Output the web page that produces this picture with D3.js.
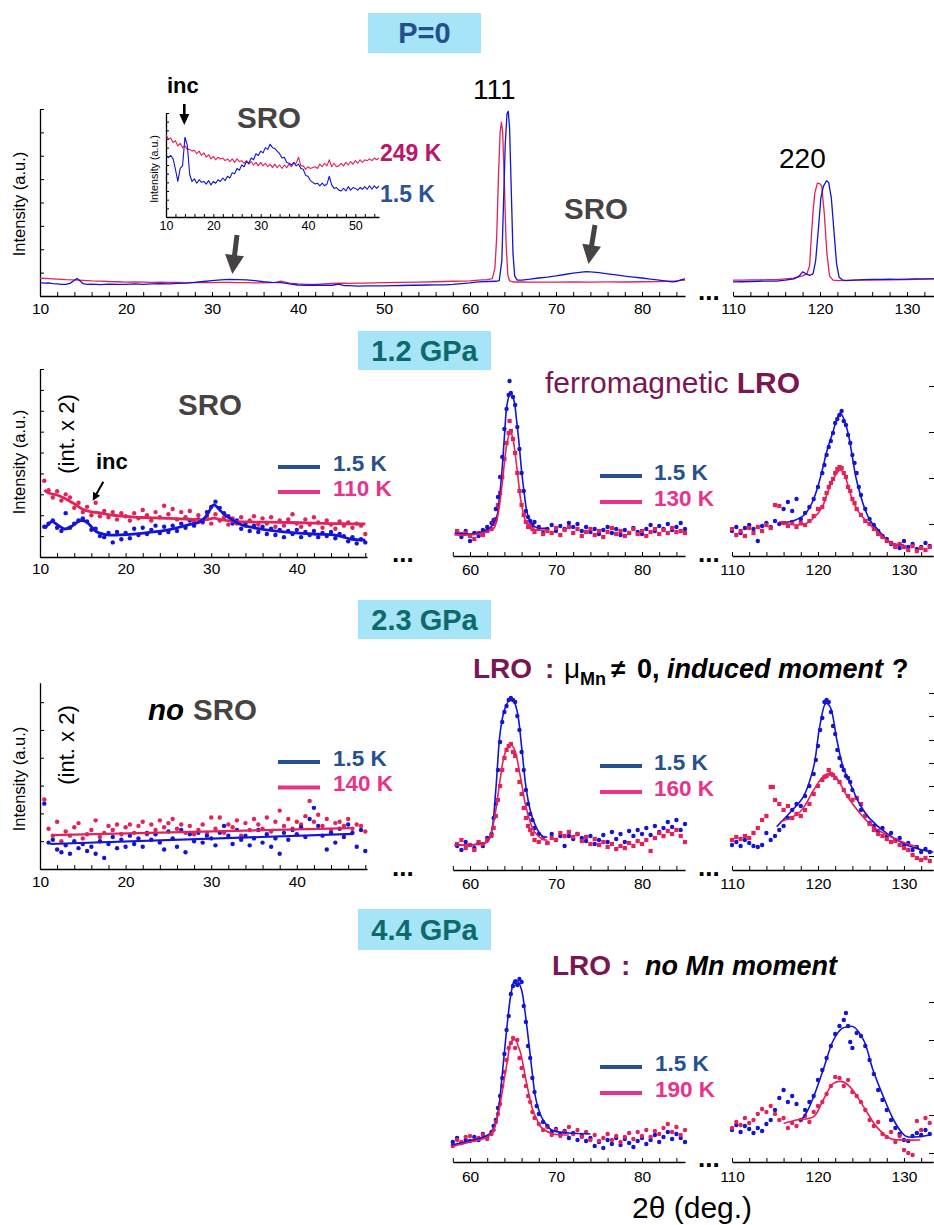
<!DOCTYPE html>
<html><head><meta charset="utf-8">
<script src="https://cdn.jsdelivr.net/npm/d3@7"></script>
<style>
body{margin:0;background:#fff;}
svg{display:block;font-family:"Liberation Sans",Arial,sans-serif;}
</style></head><body>
<svg id="chart" width="934" height="1225"></svg>
<script>
// ================= DATA =================
// tick labels
const p0LabelsA = [10,20,30,40,50,60,70,80];
const p0LabelsB = [110,120,130];
const insetLabels = [10,20,30,40,50];
const leftLabels = [10,20,30,40];
const peak111Labels = [60,70,80];
const peak220Labels = [110,120,130];
const p2RightTicks = [14.5,37.5,60.5,83.5];
const p3RightTicks = [7,18.5,30,42,53.5,65,77,88.5];
const p4RightTicks = [4.5,23.5,42,61,80];

// ---- P = 0, main panel (lines) ----
const p0BlueA = [[10,5.7],[10.5,5.5],[11,5.6],[11.5,5.3],[12,5.2],[12.5,5.0],[13,5.0],[13.5,5.4],[14,6.7],[14.3,7.5],[14.6,6.6],[15,5.3],[15.5,5.0],[16,5.1],[17,4.9],[18,5.1],[19,5.0],[20,5.0],[21,5.2],[22,5.0],[23,5.2],[24,5.3],[25,5.2],[26,5.4],[27,5.5],[28,5.8],[29,6.2],[30,6.6],[31,6.9],[32,7.1],[33,7.0],[34,6.9],[35,6.6],[36,6.1],[37,5.8],[38,5.7],[38.5,5.5],[39,5.2],[40,4.7],[41,4.6],[42,4.7],[43,4.6],[44,4.6],[44.7,5.1],[45.3,4.5],[46,4.4],[47,4.2],[48,4.3],[49,4.3],[50,4.3],[51,4.4],[52,4.5],[53,4.6],[54,4.6],[55,4.7],[56,4.8],[57,4.8],[58,5.0],[59,5.3],[60,5.6],[61,6.0],[62,6.2],[63,6.3],[63.4,6.6],[63.7,15],[63.9,40],[64.1,65],[64.3,78],[64.45,79],[64.6,72],[64.8,45],[65,18],[65.2,8.5],[65.5,6.8],[66,6.8],[67,7.2],[68,7.7],[69,8.1],[70,8.6],[71,9.2],[72,9.8],[73,10.2],[73.5,10.4],[74,10.3],[75,10.0],[76,9.5],[77,9.0],[78,8.5],[79,8.1],[80,7.7],[81,7.2],[82,6.8],[83,6.3],[83.5,6.0],[84,6.2],[84.5,6.9],[85,7.3]];
const p0RedA = [[10,7.6],[11,7.4],[12,7.2],[13,7.0],[14,6.9],[15,6.7],[16,6.5],[17,6.4],[18,6.2],[19,6.1],[20,5.9],[21,6.0],[22,5.9],[23,5.8],[24,5.9],[25,5.8],[26,5.8],[27,5.7],[28,5.8],[29,5.7],[30,5.7],[31,5.8],[32,5.8],[33,5.7],[34,5.7],[35,5.6],[36,5.6],[37,5.7],[37.5,5.9],[38,6.4],[38.5,5.9],[39,5.5],[40,5.2],[41,5.0],[42,5.0],[43,5.2],[44,5.4],[45,5.5],[46,5.4],[47,5.5],[48,5.5],[50,5.7],[52,5.8],[54,5.9],[56,6.1],[58,6.3],[60,6.5],[61,6.8],[62,7.0],[62.6,7.4],[62.9,12],[63.1,25],[63.3,50],[63.5,70],[63.65,74.4],[63.8,70],[64,48],[64.2,22],[64.4,9],[64.6,6.5],[65,6.0],[66,6.0],[67,5.9],[68,5.9],[70,5.9],[72,6.0],[74,5.9],[76,6.0],[78,6.0],[80,6.1],[82,6.2],[84,6.5],[85,6.8]];
const p0BlueB = [[110,6.0],[111,6.1],[112,6.2],[113,6.3],[114,6.4],[115,6.4],[116,6.8],[117,7.3],[117.6,8.5],[118,10.3],[118.4,9.5],[118.8,8.8],[119.2,9.5],[119.5,15],[119.8,28],[120.1,42],[120.4,47],[120.75,49.3],[121,48.5],[121.3,42],[121.6,28],[121.9,14],[122.2,8],[122.6,6.8],[123,6.6],[124,6.8],[125,7.0],[126,7.1],[127,7.1],[128,7.2],[129,7.1],[130,7.2],[131,7.3],[132,7.3],[133,7.3],[134,7.4]];
const p0RedB = [[110,6.8],[111,6.8],[112,6.9],[113,6.9],[114,7.0],[115,7.0],[116,7.3],[117,7.6],[118,8.6],[118.5,9.5],[118.8,13],[119,25],[119.2,36],[119.4,44],[119.7,48.3],[120,48],[120.2,47],[120.5,35],[120.8,18],[121.1,8.5],[121.5,6.8],[122,6.6],[123,6.7],[124,6.8],[126,6.8],[128,6.9],[130,7.0],[132,7.2],[134,7.6]];

// ---- P = 0, inset (start 10, step 0.5) ----
const insetBlue = [
 7.15,6.85,7.1,6.7,5.5,4.1,5.6,5.9,9.2,8.3,
 4.9,4.1,4.4,3.9,4.3,4.0,4.1,3.8,4.2,3.7,
 4.1,3.9,4.3,4.1,4.5,4.2,4.7,4.5,5.1,5.0,
 5.6,5.4,6.0,5.8,6.4,6.2,6.8,6.6,7.3,7.1,
 7.6,7.4,8.0,7.8,8.4,8.0,7.9,7.6,7.3,6.8,
 6.9,6.3,6.2,6.0,6.3,5.9,6.1,5.6,5.5,4.8,
 4.7,4.2,4.0,3.8,3.9,3.6,3.9,3.6,3.8,4.7,
 3.7,3.3,3.4,3.1,3.0,3.3,3.0,3.5,3.1,3.4,
 3.3,3.1,3.4,3.2,3.5,3.2,3.6,3.2,3.6,3.3,
 3.6];
const insetRed = [
 9.5,9.0,9.1,8.6,8.8,8.2,8.5,8.0,8.2,7.8,
 7.8,7.6,7.7,7.3,7.6,7.1,7.4,6.9,7.2,6.7,
 7.0,6.6,6.9,6.7,6.8,6.5,6.7,6.4,6.7,6.3,
 6.7,6.4,6.5,6.2,6.5,6.1,6.4,6.0,6.3,5.9,
 6.3,5.9,6.2,5.8,6.1,5.7,6.1,5.7,6.0,5.6,
 6.0,5.7,6.1,5.8,6.2,6.2,6.9,5.9,5.9,5.5,
 5.8,5.6,5.7,5.8,5.6,6.1,5.8,6.2,5.9,6.6,
 5.8,6.2,5.8,5.9,6.2,5.9,6.3,6.0,6.4,6.1,
 6.5,6.2,6.6,6.3,6.6,6.5,6.7,6.5,6.8,6.6,
 6.8];

// ---- 1.2 GPa, low angle (start 10.5, step 0.5), int. x2 ----
const p2LowRed = [
 36.5,32,28.5,31.5,27,30,28.5,23.5,26,21.5,
 24,20,26,19.5,22,19,21.5,18,21,19.5,
 17.5,21,18.5,22.5,20,17.5,21.5,19,24.5,20.5,
 23,18,21.5,19,22,17,20,16.5,19.5,16,
 20.5,17.5,19,15.5,18.5,16,19,15,17.5,19.5,
 15.5,18.5,16,19,14.5,17.5,15,18,20.5,16,
 14.5,18,15.5,19,16.5,14,17.5,15.5,13.5,17,
 15,16.5,14,16,15,11];
const p2LowBlue = [
 14.5,16,17.5,14,12.5,21,14,16,17.5,18.5,
 17,13,13.5,10,9.5,11.5,7,12,8.5,11.5,
 9,13.5,10.5,14,11,13,15,11.5,14.5,12,
 15,12.5,16,14,17.5,15,18,17,21.5,24,
 26.5,23.5,21,19.5,16,17.5,13.5,16,12.5,15,
 12,14.5,11,13.5,10.5,13,9.5,12.5,11,13,
 9.5,12,10.5,12.5,9.5,11.5,10,12,9,11,
 10,7.5,9.5,6.5,8.5,7];
const p2LowRedFit = [[10.5,32.1],[11,30.6],[12,29.7],[13,27.8],[14,25.5],[15,22.8],[16,21.6],[17,21.1],[18,20.3],[19,19.8],[20,19.4],[21,19.1],[22,18.9],[24,18.6],[26,18.4],[28,18.0],[29.5,17.9],[30.3,18.6],[31,18.0],[32.6,17.0],[34,16.8],[36,16.7],[38,16.6],[40.4,16.4],[42,16.2],[44,16.0],[46,15.9],[48,15.8]];
const p2LowBlueFit = [[10.6,13.7],[11.4,16.9],[12.1,15.2],[12.9,13.4],[13.8,15.0],[14.7,17.4],[15.4,16.9],[16,14.5],[16.6,12.1],[17.4,11.0],[18.2,10.5],[19.5,10.6],[20.9,11.0],[22.8,11.8],[24.8,12.9],[26,14.0],[27.2,15.3],[28.7,16.9],[29.5,20.0],[30.3,24.9],[31.1,22.0],[31.9,19.3],[33.6,15.3],[35,14.0],[36.7,12.9],[38.5,12.0],[40.6,11.3],[42.5,10.9],[44.5,10.5],[46.4,8.5],[48,8.1]];

// ---- 1.2 GPa, 111 & 220 ----
const p2Blue111 = [[58.5,10.5],[59,8],[59.5,11],[60,6],[60.5,10],[61,8.5],[61.5,11.5],[62,13],[62.5,15],[62.75,16.5],[63,22],[63.25,28],[63.5,38],[63.75,48],[64,62],[64.25,72],[64.5,79],[64.6,86],[64.75,80],[65,78],[65.25,74],[65.5,63],[65.75,52],[66,40],[66.25,31],[66.5,21],[66.75,18],[67,16],[67.25,14],[67.5,15.5],[68,13],[68.5,10],[69,12],[69.5,14],[70,11],[70.5,13.5],[71,12],[71.5,15],[72,13],[72.5,14.5],[73,11],[73.5,13],[74,10.5],[74.5,12],[75,9.5],[75.5,11.5],[76,13],[76.5,10],[77,12],[77.5,9],[78,11.5],[78.5,10],[79,12.5],[79.5,10.5],[80,9.5],[80.5,12],[81,14],[81.5,11],[82,13.5],[82.5,12],[83,14.5],[83.5,11.5],[84,13],[84.5,15],[85,12]];
const p2Red111 = [[58.5,11],[59,9.5],[59.5,10],[60,8.5],[60.5,7],[61,10],[61.5,9],[62,11],[62.5,12],[62.75,14.5],[63,17],[63.25,24],[63.5,30],[63.75,38],[64,47],[64.25,55],[64.5,60],[64.6,66],[64.75,61],[65,57],[65.25,50],[65.5,40],[65.75,31],[66,24],[66.25,19],[66.5,15.5],[66.75,13],[67,14],[67.25,12],[67.5,10.5],[68,12],[68.5,9.5],[69,11],[69.5,10],[70,12.5],[70.5,9],[71,11.5],[71.5,13],[72,10],[72.5,12],[73,8.5],[73.5,10.5],[74,12],[74.5,9],[75,11],[75.5,8],[76,10.5],[76.5,12.5],[77,9.5],[77.5,11],[78,8.5],[78.5,10],[79,12],[79.5,9.5],[80,11],[80.5,8.5],[81,10.5],[81.5,12],[82,9.5],[82.5,11.5],[83,10],[83.5,12.5],[84,10.5],[84.5,11],[85,10]];
const p2Blue111Fit = [[58.2,9.8],[60,9.5],[61,10],[62.3,12.5],[63.1,18],[63.4,27],[63.7,40],[64,58],[64.3,74],[64.7,80],[65.1,76.5],[65.4,67],[65.7,55],[66,41],[66.3,30],[66.6,21],[66.9,16.5],[67.4,13.5],[67.9,12.5],[69,12.5]];
const p2Red111Fit = [[58.2,9],[60,9],[61,9.5],[62.2,11],[62.8,12.5],[63.2,18],[63.7,33],[64,45],[64.3,55],[64.7,60.7],[65,57],[65.3,48],[65.6,37],[65.9,26.5],[66.3,18],[66.7,14],[67.2,12],[67.9,11.5],[69,11.5]];
const p2Blue220 = [[110,11],[110.5,13],[111,10],[111.5,12.5],[112,14],[112.5,12],[113,6],[113.5,13.5],[114,15],[114.5,13],[115,16],[115.5,14.5],[116,22],[116.5,25.5],[117,21],[117.5,27],[118,17],[118.5,20],[119,23],[119.5,27],[120,33],[120.5,40],[120.75,44],[121,49],[121.25,53],[121.5,56],[121.75,60],[122,65],[122.25,67],[122.5,69],[122.75,71],[123,66],[123.25,64],[123.5,59],[123.75,55],[124,49],[124.25,45],[124.5,40],[124.75,33],[125,29],[125.5,22],[126,17],[126.5,14],[127,11],[127.5,8.5],[128,7],[128.5,4.5],[129,3.5],[129.5,2.5],[130,6],[130.5,3],[131,4.5],[131.5,2],[132,3],[132.5,5],[133,3.5]];
const p2Red220 = [[110,12],[110.5,9],[111,11],[111.5,8.5],[112,12.5],[112.5,10],[113,13],[113.5,11],[114,14],[114.5,12.5],[115,24],[115.5,23.5],[116,15],[116.5,13.5],[117,15.5],[117.5,13],[118,15],[118.5,14],[119,16],[119.5,18.5],[120,22],[120.5,23],[120.75,27],[121,30],[121.25,33],[121.5,35],[121.75,37],[122,40],[122.25,42],[122.5,43],[122.75,42.5],[123,40],[123.25,38],[123.5,33],[123.75,31],[124,27],[124.25,25],[124.5,22],[125,19],[125.5,16],[126,14.5],[126.5,12],[127,9.5],[127.5,8],[128,6],[128.5,5],[129,3],[129.5,4.5],[130,3],[130.5,1.5],[131,3.5],[131.5,1],[132,2.5],[132.5,1.5],[133,3]];
const p2Blue220Fit = [[115.5,15],[116.5,15.5],[117.4,16.5],[118.4,19],[119.3,25],[119.9,32],[120.5,41.5],[121.1,52],[121.7,60],[122.2,67],[122.6,70],[123.1,66],[123.6,58],[124,48],[124.4,38],[125,28],[125.5,21.5],[126.1,16],[126.7,13],[127.5,9],[128.3,5.7],[129.4,4],[130,4]];
const p2Red220Fit = [[115.5,15.7],[116.5,14.5],[117.5,14],[118.5,14.5],[119.5,17.5],[120.5,23],[121.1,30],[121.7,36.5],[122.2,40],[122.6,41.5],[123,40],[123.4,35],[123.9,28],[124.4,23],[125,19],[125.5,16.5],[126.3,13],[127.1,10],[128.5,5],[129.4,4],[130,3.5]];

// ---- 2.3 GPa, low angle (start 10.5, step 0.5), int. x2 ----
const p3LowRed = [
 25,14.5,12,17,10,13.5,12,15,16.5,11,
 12.5,14,17.5,11.5,13,15.5,14,16,12.5,15,
 16,13,15.5,17,12.5,16,14,17.5,15,16.5,
 18,14.5,16,13,15.5,12.5,14,16,13,18.5,
 14.5,18.5,13,16,15,17.5,12,16.5,14,18,
 16,14.5,18.5,13.5,17,21,15.5,18,14.5,17,
 16,19,24.5,17,19.5,15.5,18,14,16.5,17,
 15.5,18,14.5,16,15.5,13.5];
const p3LowBlue = [
 23.5,9.5,10.5,7,6,8.5,5.5,10,7.5,9,
 6.5,8,5.5,10,4,9,11.5,7.5,10.5,8,
 12,9,11,8,13,10.5,12.5,9.5,7,13.5,
 11,8,14,6,12.5,10,13,9.5,12,11,
 8.5,13,15.5,12,9,14,10.5,12,8.5,11,
 14,9.5,12.5,8,11,5.5,13,10.5,14,12.5,
 15,11.5,18,22,15.5,12,7,13,9.5,14.5,
 11.5,16,13,8,14,6.5];
const p3LowRedFit = [[11.4,12.2],[46.3,14.7]];
const p3LowBlueFit = [[11.2,9.0],[46.6,12.6]];

// ---- 2.3 GPa, 111 & 220 ----
const p3Blue111 = [[58.5,12],[59,10],[59.5,14],[60,12.5],[60.5,11],[61,13.5],[61.5,12],[62,16],[62.5,18],[62.75,26],[63,33],[63.25,50],[63.5,64],[63.75,74],[64,79],[64.25,82],[64.5,85],[64.75,86],[65,85],[65.25,84],[65.5,77],[65.75,70],[66,59],[66.25,50],[66.5,40],[66.75,33],[67,28],[67.25,25],[67.5,21],[68,18],[68.5,16],[69,13.5],[69.5,18],[70,15],[70.5,17],[71,12],[71.5,17],[72,15.5],[72.5,18],[73,16],[73.5,14.5],[74,17],[74.5,13],[75,15],[75.5,17.5],[76,14],[76.5,19],[77,15.5],[77.5,18],[78,14],[78.5,19.5],[79,17],[79.5,20],[80,18],[80.5,21],[81,17.5],[81.5,22],[82,19],[82.5,21],[83,24],[83.5,21.5],[84,25],[84.5,20],[85,23]];
const p3Red111 = [[58.5,13],[59,15],[59.5,11],[60,12.5],[60.5,10],[61,14],[61.5,13],[62,15],[62.5,17],[62.75,21],[63,27],[63.25,35],[63.5,42],[63.75,50],[64,56],[64.25,60],[64.5,62],[64.75,63],[65,59],[65.25,57],[65.5,50],[65.75,44],[66,38],[66.25,31],[66.5,26],[66.75,22],[67,20],[67.25,18],[67.5,15],[68,14],[68.5,16],[69,13.5],[69.5,16],[70,15],[70.5,18.5],[71,17],[71.5,19],[72,16.5],[72.5,18],[73,14.5],[73.5,16.5],[74,13],[74.5,15.5],[75,12.5],[75.5,14],[76,11.5],[76.5,13],[77,10.5],[77.5,12],[78,11],[78.5,13.5],[79,12],[79.5,14.5],[80,13],[80.5,15],[81,9.5],[81.5,16],[82,18.5],[82.5,17],[83,19.5],[83.5,18],[84,20],[84.5,17],[85,14]];
const p3Blue111Fit = [[58.2,12.5],[60,12.5],[61,13],[62,14],[62.5,19],[63,40],[63.5,68.5],[64,80],[64.5,84.5],[65,85],[65.5,79],[66,61.7],[66.5,41.7],[67,30],[67.5,23.3],[68,19],[68.5,16.7],[69,16.5]];
const p3Red111Fit = [[58.2,12.5],[60,12.5],[62,14],[62.5,19],[63,30],[63.5,45],[64,57.5],[64.5,62],[64.8,62.5],[65.2,60],[65.8,48],[66.5,31.7],[67,24],[67.5,19],[68.5,15.3],[69,15]];
const p3Blue220 = [[110,12.5],[110.5,14],[111,12],[111.5,15],[112,13.5],[112.5,12],[113,11.5],[113.5,12.5],[114,18.5],[114.5,15],[115,17],[115.5,20],[116,22],[116.5,26],[117,30],[117.5,33],[118,32],[118.5,37],[119,42],[119.5,48],[119.75,55],[120,62],[120.25,70],[120.5,76],[120.75,84],[121,85],[121.25,84],[121.5,79],[121.75,72],[122,68],[122.25,60],[122.5,56],[122.75,52],[123,50],[123.25,47],[123.5,46],[123.75,44],[124,40],[124.5,36],[125,30],[125.5,27],[126,23.5],[126.5,22],[127,19.5],[127.5,21],[128,17],[128.5,18.5],[129,15],[129.5,16],[130,12],[130.5,13.5],[131,10],[131.5,11.5],[132,9],[132.5,10.5],[133,9]];
const p3Red220 = [[110,15],[110.5,16.5],[111,15.5],[111.5,17],[112,16],[112.5,18.5],[113,21],[113.5,25],[114,27],[114.5,41.5],[114.75,41.5],[115,35],[115.5,33],[116,30],[116.5,32],[117,26],[117.5,28],[118,27],[118.5,30],[119,33],[119.5,38],[120,42],[120.5,45],[120.75,46.5],[121,47],[121.25,50],[121.5,48],[121.75,47.5],[122,46],[122.5,44],[123,40],[123.5,37],[124,35],[124.5,36],[125,33],[125.5,27],[126,23],[126.5,20],[127,18],[127.5,17],[128,15.5],[128.5,14],[129,14.5],[129.5,12.5],[130,11],[130.5,10],[131,7.5],[131.5,6],[132,5],[132.5,6],[133,4.5]];
const p3Blue220Fit = [[115.2,21.7],[116.7,28.5],[118.3,36.7],[119.5,51.7],[120.2,71.7],[120.9,83.3],[121.4,81.7],[122.2,65],[122.9,51.7],[123.9,41.7],[124.9,32.5],[126,25.8],[128,18.3],[130.3,12.5],[131.9,10.3],[133.4,9]];
const p3Red220Fit = [[115.6,24],[117.9,29],[119.5,40],[120.6,46.7],[121.4,48.3],[122.2,45.8],[123.3,37.5],[124.9,28.3],[126.4,21.7],[128.4,16.7],[130.3,13.3],[131.5,11.7]];

// ---- 4.4 GPa, 111 & 220 ----
const p4Blue111 = [[58,10],[58.5,12],[59,9.5],[59.5,11],[60,10.5],[60.5,12.5],[61,11],[61.5,14],[62,12.5],[62.5,15],[62.75,18],[63,21],[63.25,27],[63.5,33],[63.75,42],[64,54],[64.25,66],[64.5,73],[64.75,84],[65,88],[65.25,90],[65.5,88.5],[65.75,91.5],[66,90],[66.25,78],[66.5,70],[66.75,58],[67,52],[67.25,42],[67.5,35],[67.75,28],[68,24],[68.5,20],[69,18],[69.5,15],[70,16.5],[70.5,14],[71,15.5],[71.5,12],[72,14.5],[72.5,11],[73,13],[73.5,10.5],[74,12],[74.5,8],[75,10],[75.5,7],[76,11],[76.5,9],[77,12],[77.5,8.5],[78,11.5],[78.5,9.5],[79,7.5],[79.5,10.5],[80,12],[80.5,9],[81,11],[81.5,13.5],[82,10],[82.5,12.5],[83,15],[83.5,11.5],[84,14],[84.5,12],[85,10]];
const p4Red111 = [[58,8],[58.5,11],[59,10],[59.5,12.5],[60,13],[60.5,11],[61,12],[61.5,13.5],[62,11.5],[62.5,14],[62.75,16],[63,20],[63.25,24],[63.5,29],[63.75,38],[64,45],[64.25,51],[64.5,57],[64.75,59.5],[65,62],[65.25,57],[65.5,61],[65.75,52],[66,47],[66.25,43],[66.5,38],[66.75,33],[67,30],[67.25,25],[67.5,22],[68,19],[68.5,16],[69,17.5],[69.5,13.5],[70,16],[70.5,13],[71,15],[71.5,17.5],[72,14],[72.5,16],[73,12.5],[73.5,15],[74,11],[74.5,13.5],[75,10.5],[75.5,12],[76,14],[76.5,11],[77,13],[77.5,10],[78,12.5],[78.5,14.5],[79,11.5],[79.5,15],[80,13],[80.5,16],[81,12.5],[81.5,15.5],[82,14],[82.5,17],[83,19],[83.5,15],[84,17.5],[84.5,13.5],[85,16]];
const p4Blue111Fit = [[57.8,8.5],[60,10.5],[62.1,13.5],[62.8,17],[63.3,26],[63.8,46],[64.3,67.7],[64.8,85],[65.2,91],[65.6,90],[66,86],[66.4,75],[66.8,61],[67.2,46],[67.6,32.7],[68,26],[68.5,21],[69.5,16],[71.5,14.5],[74,14]];
const p4Red111Fit = [[57.8,7.7],[60,10],[62.1,12.7],[62.8,17],[63.3,24.3],[63.7,34],[64.1,44.3],[64.4,52],[64.7,59.3],[65,61],[65.3,61],[65.6,58],[65.9,54.3],[66.2,48],[66.5,41],[66.9,33],[67.3,26],[67.8,21],[68.2,17.7],[69.5,14.3],[71.5,13.5]];
const p4Blue220 = [[110,16],[110.5,18.5],[111,15],[111.5,18],[112,16.5],[112.5,14.5],[113,17],[113.5,15.5],[114,19],[114.5,21],[115,26],[115.5,32],[116,36],[116.5,30],[117,33],[117.5,29],[118,21],[118.5,26],[119,30],[119.5,33],[120,41],[120.5,46],[121,52],[121.5,58],[122,64],[122.5,68],[123,71],[123.25,74.5],[123.5,68],[123.75,60],[124,57],[124.5,64.5],[125,63],[125.5,58],[126,51],[126.5,44],[127,36],[127.5,31],[128,26],[128.5,21],[129,17],[129.5,14],[130,11],[130.5,10.5],[131,13],[131.5,14.5],[132,13.5],[132.5,16],[133,14]];
const p4Red220 = [[110,17],[110.5,20],[111,18.5],[111.5,22],[112,19.5],[112.5,21],[113,24],[113.5,26.5],[114,25],[114.5,28],[115,24],[115.5,21],[116,22],[116.5,17],[117,19.5],[117.5,18],[118,21],[118.5,23],[119,20],[119.5,25],[120,28],[120.5,30],[121,34],[121.5,38],[122,42.5],[122.5,42],[123,38],[123.5,41],[124,35],[124.5,33],[125,30],[125.5,26],[126,21],[126.5,18],[127,20],[127.5,14],[128,12.5],[128.5,15],[129,10],[129.5,13],[130,6],[130.5,4.5],[131,3.5],[131.5,20.5],[132,16],[132.5,22],[133,19.5]];
const p4Blue220Fit = [[117.9,20.2],[118.7,25],[119.5,32.7],[120.6,46],[121.8,61],[122.8,66.8],[123.6,67.7],[124.1,67.7],[125.3,61],[126.4,46],[127.6,32.7],[128.8,21],[129.7,15],[130.3,12.7],[131.9,12.7],[133,13.5]];
const p4Red220Fit = [[116,19.3],[117.5,21],[119.5,22.7],[120.6,31],[121.8,39.3],[122.8,40.2],[123.7,37.7],[125.3,27.7],[126.8,17.7],[128.4,11.8],[130,11],[131.9,11]];

// ================= DRAWING =================
const svg = d3.select("#chart");
const C = {
  blue:"#1414d4", red:"#e3225a", legBlue:"#26508f", legPink:"#e8338a",
  gray:"#474343", maroon:"#7a1652", box:"#a6e4f8", boxP0:"#254e8c", boxG:"#0c6a6a",
  lab249:"#b8186a", lab15:"#2b5396"
};
const FONT = "'Liberation Sans', Arial, sans-serif";

function seq(start, step, vals){ return vals.map((v,i)=>[start+i*step, v]); }

function xAxis(scale, y, ticks, labels, pad, fs, tick){
  const g = svg.append("g").attr("transform",`translate(0,${y})`)
    .call(d3.axisBottom(scale).tickValues(ticks).tickSizeInner(-(tick||4)).tickSizeOuter(0)
      .tickPadding(pad).tickFormat(d => labels.includes(d) ? d : ""));
  g.select(".domain").attr("stroke","#000").attr("stroke-width",1.3);
  g.selectAll(".tick line").attr("stroke","#000").attr("stroke-width",1);
  g.selectAll(".tick text").attr("font-size",fs).attr("font-family",FONT).attr("fill","#000");
  return g;
}
function yAxisLeft(scale, x, ticks, tick){
  const g = svg.append("g").attr("transform",`translate(${x},0)`)
    .call(d3.axisLeft(scale).tickValues(ticks).tickSizeInner(-(tick||4)).tickSizeOuter(0).tickFormat(""));
  g.select(".domain").attr("stroke","#000").attr("stroke-width",1.3);
  g.selectAll(".tick line").attr("stroke","#000");
}
function yTicksRight(scale, ticks){
  const g = svg.append("g").attr("transform","translate(934,0)")
    .call(d3.axisRight(scale).tickValues(ticks).tickSizeInner(-5).tickSizeOuter(0).tickFormat(""));
  g.select(".domain").remove();
  g.selectAll(".tick line").attr("stroke","#000");
}
function line(xs, ys, data, color, w, curve){
  svg.append("path").datum(data)
    .attr("d", d3.line().x(d=>xs(d[0])).y(d=>ys(d[1])).curve(curve||d3.curveLinear))
    .attr("fill","none").attr("stroke",color).attr("stroke-width",w).attr("stroke-linejoin","round");
}
function dots(xs, ys, data, color, r, square){
  const g = svg.append("g");
  if(square){
    g.selectAll("rect").data(data).join("rect")
      .attr("x",d=>xs(d[0])-r).attr("y",d=>ys(d[1])-r).attr("width",2*r).attr("height",2*r).attr("fill",color);
  } else {
    g.selectAll("circle").data(data).join("circle")
      .attr("cx",d=>xs(d[0])).attr("cy",d=>ys(d[1])).attr("r",r).attr("fill",color);
  }
}
function txt(x,y,s,o){
  o=o||{};
  const t = svg.append("text").attr("x",x).attr("y",y).text(s)
    .attr("font-family",FONT).attr("font-size",o.fs||16).attr("font-weight",o.fw||"normal")
    .attr("fill",o.fill||"#000");
  if(o.anchor) t.attr("text-anchor",o.anchor);
  if(o.style) t.attr("font-style",o.style);
  if(o.rot) t.attr("transform",`rotate(-90,${x},${y})`);
  return t;
}
function arrow(x1,y1,x2,y2,sw,hw,hl,color){
  const dx=x2-x1, dy=y2-y1, L=Math.hypot(dx,dy), ux=dx/L, uy=dy/L, px=-uy, py=ux;
  const bx=x2-ux*hl, by=y2-uy*hl;
  const pts=[[x1+px*sw/2,y1+py*sw/2],[bx+px*sw/2,by+py*sw/2],[bx+px*hw/2,by+py*hw/2],[x2,y2],
             [bx-px*hw/2,by-py*hw/2],[bx-px*sw/2,by-py*sw/2],[x1-px*sw/2,y1-py*sw/2]];
  svg.append("polygon").attr("points",pts.map(p=>p.join(",")).join(" ")).attr("fill",color);
}
function box(x,y,w,h,label,color,base){
  svg.append("rect").attr("x",x).attr("y",y).attr("width",w).attr("height",h).attr("fill",C.box);
  txt(x+w/2, base, label, {fs:29, fw:"bold", fill:color, anchor:"middle"});
}
function legend(x1,x2,tx,yb,yp,labB,labP){
  svg.append("line").attr("x1",x1).attr("x2",x2).attr("y1",yb).attr("y2",yb).attr("stroke",C.legBlue).attr("stroke-width",4);
  svg.append("line").attr("x1",x1).attr("x2",x2).attr("y1",yp).attr("y2",yp).attr("stroke",C.legPink).attr("stroke-width",4);
  txt(tx, yb+3.5, labB, {fs:22.5, fw:"bold", fill:C.legBlue});
  txt(tx, yp+3.5, labP, {fs:22.5, fw:"bold", fill:C.legPink});
}
function dotsBreak(x,y){ txt(x,y,"...",{fs:26,fw:"bold"}); }
const smooth = d3.curveCatmullRom.alpha(0.5);

// ---------- P = 0 ----------
box(368,13,113,40,"P=0",C.boxP0,43);
const x1a = d3.scaleLinear().domain([10,85]).range([40,685]);
const x1b = d3.scaleLinear().domain([110,133.3]).range([733,935.7]);
const y1 = d3.scaleLinear().domain([0,80]).range([296,109]);
yAxisLeft(y1, 40, d3.range(0,81,10));
xAxis(x1a, 296, d3.range(10,85,2), p0LabelsA, 7, 15.5);
xAxis(x1b, 296, d3.range(110,134,2), p0LabelsB, 7, 15.5);
line(x1a, y1, p0RedA, C.red, 1.3);
line(x1a, y1, p0BlueA, C.blue, 1.3);
line(x1b, y1, p0RedB, C.red, 1.3);
line(x1b, y1, p0BlueB, C.blue, 1.3);
dotsBreak(698, 300);
txt(25, 204, "Intensity (a.u.)", {fs:16.5, anchor:"middle", rot:true});
txt(473, 99, "111", {fs:28});
txt(779, 168, "220", {fs:28});
txt(564, 219, "SRO", {fs:29.5, fw:"bold", fill:C.gray});
arrow(595,225,588.5,264,5,19,19,C.gray);
arrow(237,235,232.3,274,5,19,19,C.gray);

// inset
const xi = d3.scaleLinear().domain([10,55]).range([166,379]);
const yi = d3.scaleLinear().domain([0,12]).range([217,113]);
yAxisLeft(yi, 166, d3.range(0,13,1), 3);
xAxis(xi, 217, d3.range(10,55,2), insetLabels, 4, 12.5, 3);
line(xi, yi, seq(10,0.5,insetRed), C.red, 1.1);
line(xi, yi, seq(10,0.5,insetBlue), C.blue, 1.1);
txt(158, 169, "Intensity (a.u.)", {fs:10.7, anchor:"middle", rot:true});
txt(167, 93, "inc", {fs:22, fw:"bold"});
arrow(184.3,104,184.3,125,2.6,10,11,"#000");
txt(237, 128, "SRO", {fs:29.5, fw:"bold", fill:C.gray});
txt(380, 161, "249 K", {fs:23, fw:"bold", fill:C.lab249});
txt(380, 202, "1.5 K", {fs:23, fw:"bold", fill:C.lab15});

// ---------- 1.2 GPa ----------
box(358,331,133,39,"1.2 GPa",C.boxG,361);
const xL = d3.scaleLinear().domain([10,48.2]).range([40,367]);
const y2L = d3.scaleLinear().domain([0,90]).range([557,369]);
yAxisLeft(y2L, 40, d3.range(0,91,10));
xAxis(xL, 557, d3.range(10,49,2), leftLabels, 6, 15.5);
dots(xL, y2L, seq(10.5,0.5,p2LowRed), C.red, 2.2);
dots(xL, y2L, seq(10.5,0.5,p2LowBlue), C.blue, 2.2);
line(xL, y2L, p2LowRedFit, C.red, 2.8, smooth);
line(xL, y2L, p2LowBlueFit, C.blue, 2.8, smooth);
dotsBreak(392, 562);
txt(25, 462, "Intensity (a.u.)", {fs:16.5, anchor:"middle", rot:true});
txt(73.5, 434, "(int. x 2)", {fs:22, anchor:"middle", rot:true});
txt(178, 415, "SRO", {fs:29.5, fw:"bold", fill:C.gray});
txt(96, 469, "inc", {fs:22, fw:"bold"});
arrow(103.3,481.7,92.7,500.7,2,8,8,"#000");
legend(278,320,333,467,492,"1.5 K","110 K");

const x111 = d3.scaleLinear().domain([58,85]).range([452.8,685]);
const x220 = d3.scaleLinear().domain([110,133.4]).range([732,933.2]);
const y2R = d3.scaleLinear().domain([0,100]).range([553,353]);
xAxis(x111, 556, d3.range(58,85,2), peak111Labels, 8, 15.5);
xAxis(x220, 556, d3.range(110,134,2), peak220Labels, 8, 15.5);
yTicksRight(y2R, p2RightTicks);
dots(x111, y2R, p2Blue111, C.blue, 2.2);
dots(x111, y2R, p2Red111, C.red, 2.1, true);
dots(x220, y2R, p2Blue220, C.blue, 2.2);
dots(x220, y2R, p2Red220, C.red, 2.1, true);
line(x111, y2R, p2Blue111Fit, C.blue, 1.6, smooth);
line(x111, y2R, p2Red111Fit, C.red, 1.6, smooth);
line(x220, y2R, p2Blue220Fit, C.blue, 1.6, smooth);
line(x220, y2R, p2Red220Fit, C.red, 1.6, smooth);
dotsBreak(698, 562);
const t2 = txt(545, 393, "", {fs:30, fill:C.maroon});
t2.append("tspan").text("ferromagnetic ");
t2.append("tspan").attr("font-weight","bold").text("LRO");
legend(600,642,654,476,502,"1.5 K","130 K");

// ---------- 2.3 GPa ----------
box(358,600,133,39,"2.3 GPa",C.boxG,630);
const y3L = d3.scaleLinear().domain([0,67]).range([869,682.7]);
yAxisLeft(y3L, 40, d3.range(0,61,10));
xAxis(xL, 869, d3.range(10,49,2), leftLabels, 7, 15.5);
dots(xL, y3L, seq(10.5,0.5,p3LowRed), C.red, 2.2);
dots(xL, y3L, seq(10.5,0.5,p3LowBlue), C.blue, 2.2);
line(xL, y3L, p3LowRedFit, C.red, 2.2);
line(xL, y3L, p3LowBlueFit, C.blue, 2.2);
dotsBreak(392, 876);
txt(25, 779, "Intensity (a.u.)", {fs:16.5, anchor:"middle", rot:true});
txt(73.5, 745, "(int. x 2)", {fs:22, anchor:"middle", rot:true});
txt(148, 720, "no", {fs:29.5, fw:"bold", style:"italic"});
txt(193, 720, "SRO", {fs:29.5, fw:"bold", fill:C.gray});
legend(278,320,333,762,787.5,"1.5 K","140 K");

const y3R = d3.scaleLinear().domain([0,100]).range([870,670]);
xAxis(x111, 870, d3.range(58,85,2), peak111Labels, 8, 15.5);
xAxis(x220, 870, d3.range(110,134,2), peak220Labels, 8, 15.5);
yTicksRight(y3R, p3RightTicks);
dots(x111, y3R, p3Blue111, C.blue, 2.2);
dots(x111, y3R, p3Red111, C.red, 2.1, true);
dots(x220, y3R, p3Blue220, C.blue, 2.2);
dots(x220, y3R, p3Red220, C.red, 2.1, true);
line(x111, y3R, p3Blue111Fit, C.blue, 1.6, smooth);
line(x111, y3R, p3Red111Fit, C.red, 1.6, smooth);
line(x220, y3R, p3Blue220Fit, C.blue, 1.6, smooth);
line(x220, y3R, p3Red220Fit, C.red, 1.6, smooth);
dotsBreak(698, 876);
txt(473, 678, "LRO", {fs:28, fw:"bold", fill:C.maroon});
txt(545, 678, ":", {fs:28, fw:"bold", fill:C.maroon});
txt(564, 678, "\u03BC", {fs:28});
txt(580, 685, "Mn", {fs:18, fw:"bold"});
txt(611, 678, "\u2260", {fs:26, fw:"bold"});
txt(637, 678, "0,", {fs:27, fw:"bold"});
txt(667, 678, "induced moment", {fs:27, fw:"bold", style:"italic"});
txt(892, 678, "?", {fs:27, fw:"bold"});
legend(600,642,654,766,792,"1.5 K","160 K");

// ---------- 4.4 GPa ----------
box(358,909,133,41,"4.4 GPa",C.boxG,940);
const y4R = d3.scaleLinear().domain([0,100]).range([1162,962]);
xAxis(x111, 1162, d3.range(58,85,2), peak111Labels, 9, 15.5);
xAxis(x220, 1162, d3.range(110,134,2), peak220Labels, 9, 15.5);
yTicksRight(y4R, p4RightTicks);
dots(x111, y4R, p4Blue111, C.blue, 2.2);
dots(x111, y4R, p4Red111, C.red, 2.2);
dots(x220, y4R, p4Blue220, C.blue, 2.2);
dots(x220, y4R, p4Red220, C.red, 2.2);
line(x111, y4R, p4Blue111Fit, C.blue, 1.6, smooth);
line(x111, y4R, p4Red111Fit, C.red, 1.6, smooth);
line(x220, y4R, p4Blue220Fit, C.blue, 1.6, smooth);
line(x220, y4R, p4Red220Fit, C.red, 1.6, smooth);
dotsBreak(698, 1167);
txt(552, 975, "LRO", {fs:28, fw:"bold", fill:C.maroon});
txt(621, 975, ":", {fs:28, fw:"bold", fill:C.maroon});
txt(645, 975, "no Mn moment", {fs:27, fw:"bold", style:"italic"});
legend(600,642,655,1067,1093,"1.5 K","190 K");
txt(632, 1218, "2\u03B8 (deg.)", {fs:30});
</script></body></html>
